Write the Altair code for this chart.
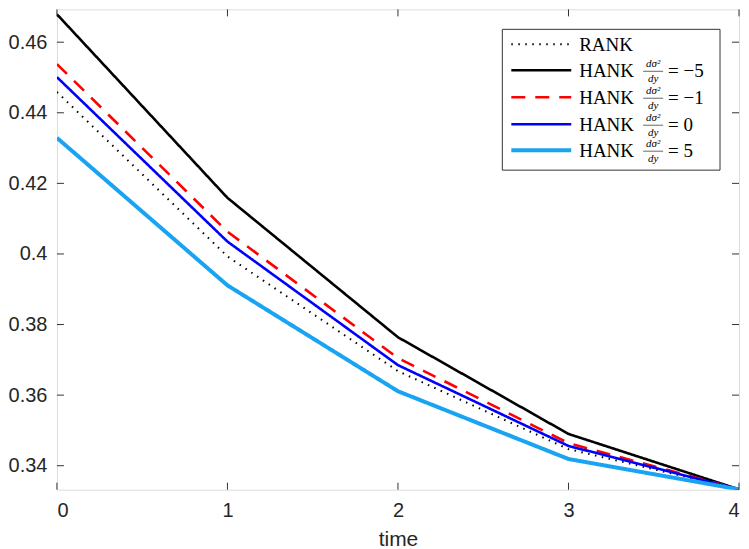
import altair as alt
import pandas as pd

time = [0, 1, 2, 3, 4]
rank = [0.4459, 0.3993, 0.3668, 0.3447, 0.3333]
hank_m5 = [0.4679, 0.4159, 0.3764, 0.3490, 0.3333]
hank_m1 = [0.4538, 0.4063, 0.3705, 0.3464, 0.3333]
hank_0 = [0.4501, 0.4035, 0.3685, 0.3456, 0.3333]
hank_5 = [0.4329, 0.3911, 0.3611, 0.3419, 0.3333]

series = ["RANK", "HANK -5", "HANK -1", "HANK 0", "HANK 5"]
values = [rank, hank_m5, hank_m1, hank_0, hank_5]
colors = ["#000000", "#000000", "#FF0000", "#0000FF", "#18A4F2"]
widths = [2, 2.6, 2.6, 2.6, 4]
dashes = [[1.5, 5.5], [1, 0], [14, 10], [1, 0], [1, 0]]
legend_vals = ["", "= \u22125", "= \u22121", "= 0", "= 5"]

xticks = [0, 1, 2, 3, 4]
yticks = [0.34, 0.36, 0.38, 0.40, 0.42, 0.44, 0.46]

W, H = 683, 481
YMIN, YMAX = 0.3332, 0.4693

rows = []
for s, v in zip(series, values):
    for t, y in zip(time, v):
        rows.append({"series": s, "time": t, "value": y})
df = pd.DataFrame(rows)

xs = alt.Scale(domain=[0, 4], nice=False, zero=False)
ys = alt.Scale(domain=[YMIN, YMAX], nice=False, zero=False)

AX = "#333333"
base = alt.Chart(df)
layers = []
for s, c, w, d in zip(series, colors, widths, dashes):
    layers.append(
        base.transform_filter(alt.datum.series == s)
        .mark_line(color=c, strokeWidth=w, strokeDash=d, clip=True)
        .encode(
            x=alt.X("time:Q", scale=xs, title="time",
                    axis=alt.Axis(values=xticks, format="d", tickSize=0, domain=False,
                                  grid=False, labelFont="Liberation Sans", labelFontSize=20,
                                  labelColor="#262626", titleFont="Liberation Sans",
                                  titleFontSize=21, titleFontWeight="normal",
                                  titleColor="#262626", labelPadding=11, titlePadding=8)),
            y=alt.Y("value:Q", scale=ys, title=None,
                    axis=alt.Axis(values=yticks, tickSize=0, domain=False, grid=False,
                                  labelFont="Liberation Sans", labelFontSize=20,
                                  labelColor="#262626", labelPadding=10,
                                  labelExpr="datum.value == 0.4 ? '0.4' : format(datum.value, '.2f')")),
        )
    )

# inward ticks (box style)
xt = pd.DataFrame({"t": xticks})
yt = pd.DataFrame({"v": yticks})
layers.append(alt.Chart(xt).mark_rule(color=AX, strokeWidth=1).encode(
    x=alt.X("t:Q", scale=xs), y=alt.value(H), y2=alt.value(H - 7)))
layers.append(alt.Chart(xt).mark_rule(color=AX, strokeWidth=1).encode(
    x=alt.X("t:Q", scale=xs), y=alt.value(0), y2=alt.value(7)))
layers.append(alt.Chart(yt).mark_rule(color=AX, strokeWidth=1).encode(
    y=alt.Y("v:Q", scale=ys), x=alt.value(0), x2=alt.value(7)))
layers.append(alt.Chart(yt).mark_rule(color=AX, strokeWidth=1).encode(
    y=alt.Y("v:Q", scale=ys), x=alt.value(W), x2=alt.value(W - 7)))

# custom legend
LX0, LX1, LY0, LY1 = 446, 664, 20, 161
row_y = [35, 61, 88, 115, 141]
leg = pd.DataFrame({"a": [0]})
lb = alt.Chart(leg)
layers.append(lb.mark_rect(fill="white", stroke=AX, strokeWidth=1).encode(
    x=alt.value(LX0), x2=alt.value(LX1), y=alt.value(LY0), y2=alt.value(LY1)))
for i, (s, c, w, d, lv) in enumerate(zip(series, colors, widths, dashes, legend_vals)):
    yy = row_y[i]
    layers.append(lb.mark_rule(color=c, strokeWidth=w, strokeDash=d).encode(
        x=alt.value(455), x2=alt.value(515), y=alt.value(yy)))
    name = "RANK" if i == 0 else "HANK"
    layers.append(lb.mark_text(text=name, font="Liberation Serif", fontSize=19, align="left",
                               baseline="middle", color="black").encode(
        x=alt.value(523), y=alt.value(yy + 1)))
    if i > 0:
        layers.append(lb.mark_text(text="d\u03c3\u00b2", font="Liberation Serif", fontSize=11,
                                   fontStyle="italic", align="center", baseline="bottom",
                                   color="black").encode(x=alt.value(597), y=alt.value(yy - 1)))
        layers.append(lb.mark_rule(color="black", strokeWidth=0.6).encode(
            x=alt.value(587), x2=alt.value(607), y=alt.value(yy + 1)))
        layers.append(lb.mark_text(text="dy", font="Liberation Serif", fontSize=11,
                                   fontStyle="italic", align="center", baseline="top",
                                   color="black").encode(x=alt.value(597), y=alt.value(yy + 3)))
        layers.append(lb.mark_text(text=lv, font="Liberation Serif", fontSize=19, align="left",
                                   baseline="middle", color="black").encode(
            x=alt.value(612), y=alt.value(yy + 1)))

chart = alt.layer(*layers).properties(
    width=W, height=H,
    padding={"left": 0, "top": 0, "right": 1, "bottom": 2},
).configure_view(stroke=AX, strokeWidth=1).configure(background="white")

chart.save("out.html", embed_options={"renderer": "svg", "actions": False})
